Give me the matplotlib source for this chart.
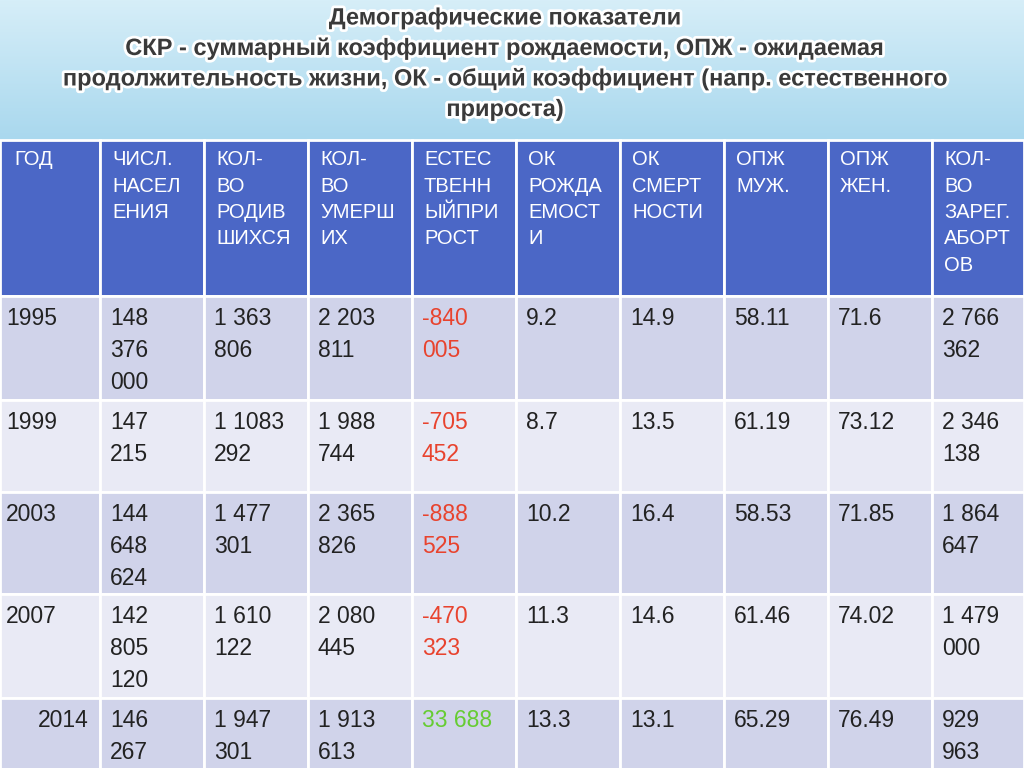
import numpy as np
import matplotlib.pyplot as plt
import matplotlib.patheffects as pe
from matplotlib.patches import Rectangle
from matplotlib.colors import LinearSegmentedColormap

plt.rcParams["font.family"] = "Liberation Sans"

title_lines = ["Демографические показатели",
               "СКР - суммарный коэффициент рождаемости, ОПЖ - ожидаемая",
               "продолжительность жизни, ОК - общий коэффициент (напр. естественного",
               "прироста)"]

headers = ["ГОД", "ЧИСЛ.\nНАСЕЛ\nЕНИЯ", "КОЛ-\nВО\nРОДИВ\nШИХСЯ", "КОЛ-\nВО\nУМЕРШ\nИХ",
           "ЕСТЕС\nТВЕНН\nЫЙПРИ\nРОСТ", "ОК\nРОЖДА\nЕМОСТ\nИ", "ОК\nСМЕРТ\nНОСТИ",
           "ОПЖ\nМУЖ.", "ОПЖ\nЖЕН.", "КОЛ-\nВО\nЗАРЕГ.\nАБОРТ\nОВ"]

years = ["1995", "1999", "2003", "2007", "2014"]
population = ["148\n376\n000", "147\n215", "144\n648\n624", "142\n805\n120", "146\n267"]
births = ["1 363\n806", "1 1083\n292", "1 477\n301", "1 610\n122", "1 947\n301"]
deaths = ["2 203\n811", "1 988\n744", "2 365\n826", "2 080\n445", "1 913\n613"]
natural = ["-840\n005", "-705\n452", "-888\n525", "-470\n323", "33 688"]
birth_rate = ["9.2", "8.7", "10.2", "11.3", "13.3"]
death_rate = ["14.9", "13.5", "16.4", "14.6", "13.1"]
le_male = ["58.11", "61.19", "58.53", "61.46", "65.29"]
le_female = ["71.6", "73.12", "71.85", "74.02", "76.49"]
abortions = ["2 766\n362", "2 346\n138", "1 864\n647", "1 479\n000", "929\n963"]

columns = [years, population, births, deaths, natural, birth_rate,
           death_rate, le_male, le_female, abortions]

col_x = [0, 100, 204, 308, 412, 516, 620, 724, 828, 932, 1024]
row_y = [140, 296, 400, 492, 594, 698, 790]
row_colors = ["#D0D3EA", "#E9EAF5", "#D0D3EA", "#E9EAF5", "#D0D3EA"]

fig = plt.figure(figsize=(10.24, 7.68), dpi=100)
ax = fig.add_axes([0, 0, 1, 1])
ax.set_xlim(0, 1024)
ax.set_ylim(768, 0)
ax.axis("off")

# title background gradient
grad = np.linspace(0, 1, 100).reshape(-1, 1)
ax.imshow(grad, extent=[0, 1024, 140, 0],
          cmap=LinearSegmentedColormap.from_list("g", ["#D6EEF8", "#A9D8EE"]),
          aspect="auto", zorder=0)

glow = [pe.withStroke(linewidth=4, foreground="white")]
for i, line in enumerate(title_lines):
    ax.text(505, 18 + i * 30.5, line, ha="center", va="center", fontsize=17,
            fontweight="bold", color="#3a3a3a", path_effects=glow, zorder=3)

# header
for c in range(10):
    ax.add_patch(Rectangle((col_x[c], row_y[0]), col_x[c + 1] - col_x[c], row_y[1] - row_y[0],
                           facecolor="#4B67C6", edgecolor="white", lw=2, zorder=1))
    ax.text(col_x[c] + (14 if c == 0 else 12), 150, headers[c], ha="left", va="top",
            fontsize=14.5, color="white", linespacing=1.5, zorder=2)

# body
for r in range(5):
    for c in range(10):
        ax.add_patch(Rectangle((col_x[c], row_y[r + 1]), col_x[c + 1] - col_x[c],
                               row_y[r + 2] - row_y[r + 1], facecolor=row_colors[r],
                               edgecolor="white", lw=2, zorder=1))
        txt = columns[c][r]
        color = "#222222"
        if c == 4:
            color = "#66CC33" if not txt.startswith("-") else "#E8432E"
        x = col_x[c] + 10
        if c == 0:
            x = 38 if r == 4 else 6
        ax.text(x, row_y[r + 1] + 11, txt, ha="left", va="top", fontsize=16.5,
                color=color, linespacing=1.5, zorder=2)

fig.savefig("out.png", dpi=100)
